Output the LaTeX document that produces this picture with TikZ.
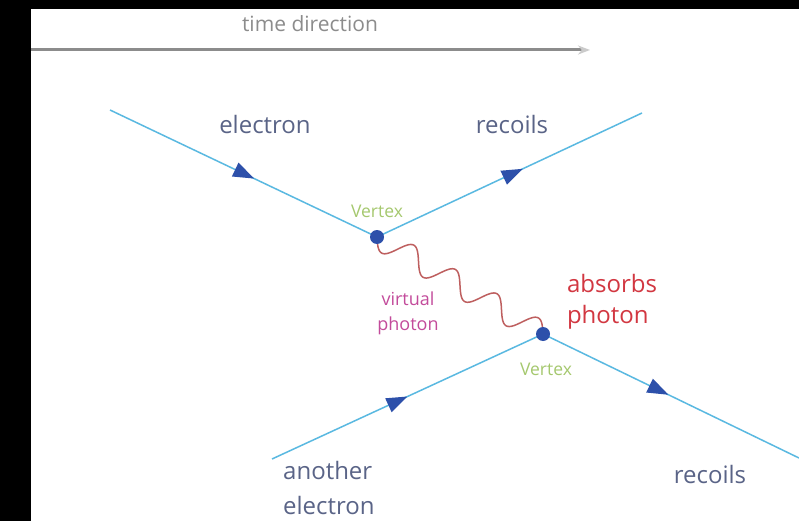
\documentclass[tikz,border=0pt]{standalone}
\usepackage{fontspec}
\setmainfont{Open Sans}
\usetikzlibrary{arrows.meta,decorations.markings,calc}

\definecolor{linecol}{RGB}{90,185,225}
\definecolor{dotcol}{RGB}{45,80,170}
\definecolor{txtcol}{RGB}{90,100,135}
\definecolor{vtxcol}{RGB}{165,200,110}
\definecolor{virtcol}{RGB}{195,75,155}
\definecolor{abscol}{RGB}{210,55,65}
\definecolor{phocol}{RGB}{190,95,95}
\definecolor{timecol}{RGB}{140,140,140}

\tikzset{
  fermion/.style={draw=linecol, line width=1.5pt, postaction={decorate},
    decoration={markings, mark=at position #1 with {\arrow{Triangle[length=21pt, width=15pt, color=dotcol]}}}},
  fermion/.default=0.5,
  photon/.style={draw=phocol, line width=1.5pt},
  lbl/.style={text=txtcol, inner sep=0pt, font=\fontsize{24}{36}\selectfont},
  timelbl/.style={text=timecol, inner sep=0pt, font=\fontsize{21}{25}\selectfont},
  vtxlbl/.style={text=vtxcol, inner sep=0pt, font=\fontsize{17.5}{21}\selectfont},
  virtlbl/.style={text=virtcol, inner sep=0pt, align=center, font=\fontsize{18}{25}\selectfont},
  abslbl/.style={text=abscol, inner sep=0pt, align=left, font=\fontsize{24}{31}\selectfont}
}

\begin{document}
\begin{tikzpicture}[x=1pt, y=-1pt]
  \useasboundingbox (0,0) rectangle (799,521);
  \fill[black] (0,0) rectangle (799,521);
  \fill[white] (31,9) rectangle (799,521);

  % time axis
  \coordinate (t0) at (31,50);
  \coordinate (t1) at (590,50);
  \draw[timecol, line width=3pt, -{Stealth[length=12pt, width=9pt, color=timecol!45]}] (t0) -- (t1);
  \node[timelbl, anchor=base] (tlabel) at (310,32) {time direction};

  \coordinate (v1) at (377,237);
  \coordinate (v2) at (543,334);
  \coordinate (ein) at (110,110);
  \coordinate (eout) at (642,113);
  \coordinate (ain) at (272,459);
  \coordinate (aout) at (799,458);

  \draw[photon] let \p1 = (v1), \p2 = (v2) in
    plot[variable=\t, domain=0:1, samples=200, smooth]
    ({\x1+(\x2-\x1)*\t+0.06*sin(1440*\t)*(\y2-\y1)}, {\y1+(\y2-\y1)*\t-0.06*sin(1440*\t)*(\x2-\x1)});

  \draw[fermion=0.54] (ein) -- (v1);
  \draw[fermion=0.55] (v1) -- (eout);
  \draw[fermion=0.5] (ain) -- (v2);
  \draw[fermion=0.49] (v2) -- (aout);

  \fill[dotcol] (v1) circle (7pt);
  \fill[dotcol] (v2) circle (7pt);

  \node[lbl, anchor=base] (lelec) at (265,134) {electron};
  \node[lbl, anchor=base] (lrec1) at (512,134) {recoils};
  \node[vtxlbl, anchor=base] (lvtx1) at (377,218) {Vertex};
  \node[vtxlbl, anchor=base] (lvtx2) at (546,375) {Vertex};
  \node[virtlbl, anchor=north] (lvirt) at (408,292) {virtual\\photon};
  \node[abslbl, anchor=north] (labs) at (612,274) {absorbs\\photon};
  \node[lbl, anchor=north west, align=left, font=\fontsize{24}{35}\selectfont] (lanoth) at (283,461) {another\\electron};
  \node[lbl, anchor=base] (lrec2) at (710,483) {recoils};
\end{tikzpicture}
\end{document}
